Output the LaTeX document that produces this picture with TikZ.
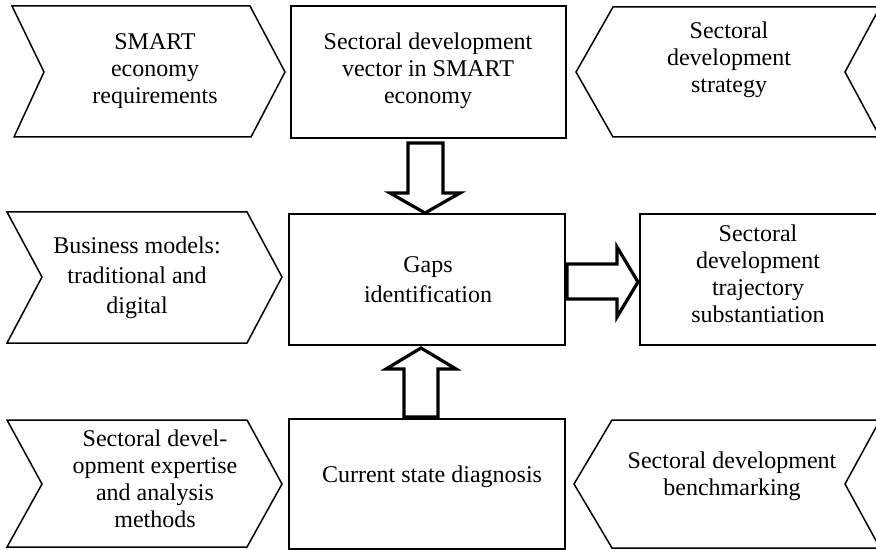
\documentclass[tikz,border=0pt]{standalone}
\usepackage{fontspec}
\setmainfont{Liberation Serif}
\begin{document}
\begin{tikzpicture}[x=0.5pt,y=-0.5pt,
  shapeline/.style={draw=black,line width=0.75pt,line join=miter,fill=white},
  blockarrow/.style={draw=black,line width=1.6pt,line join=miter,fill=white},
  lbl/.style={align=center,inner sep=0pt,font=\fontsize{12}{13.5}\selectfont},
  lblwide/.style={align=center,inner sep=0pt,font=\fontsize{12}{15}\selectfont}]
\useasboundingbox (0,0) rectangle (876,550);
\clip (0,0) rectangle (876,550);
\fill[white] (0,0) rectangle (876,550);

% top row
\draw[shapeline] (12,6) -- (250,6) -- (285,72) -- (251,137) -- (14,137) -- (44,72) -- cycle;
\draw[shapeline] (291,6) rectangle (566,138);
\draw[shapeline] (613,7) -- (880,7) -- (845,72) -- (880,137) -- (613,137) -- (576,72) -- cycle;

% middle row
\draw[shapeline] (7,212) -- (247,212) -- (282,277) -- (247,343) -- (7,343) -- (42,277) -- cycle;
\draw[shapeline] (289,214) rectangle (565,345);
\draw[shapeline] (640,214) rectangle (882,345);

% bottom row
\draw[shapeline] (7,420) -- (247,420) -- (282,484) -- (247,547) -- (7,547) -- (42,484) -- cycle;
\draw[shapeline] (289,419) rectangle (565,549);
\draw[shapeline] (612,420) -- (880,420) -- (845,484) -- (880,548) -- (612,548) -- (574,484) -- cycle;

% block arrows
\draw[blockarrow] (408,143) -- (443,143) -- (443,193) -- (460,193) -- (425,213) -- (390,193) -- (408,193) -- cycle;
\draw[blockarrow] (567,264) -- (617,264) -- (617,247) -- (638,282) -- (617,317) -- (617,299) -- (567,299) -- cycle;
\draw[blockarrow] (404,417) -- (404,369) -- (386,369) -- (421,348) -- (456,369) -- (438,369) -- (438,417) -- cycle;

% texts
\node[lbl] (smart) at (155,71) {SMART\\economy\\requirements};
\node[lbl] (vector) at (428,71) {Sectoral development\\vector in SMART\\economy};
\node[lbl] (strategy) at (729,60) {Sectoral\\development\\strategy};
\node[lblwide] (business) at (137,278) {Business models:\\traditional and\\digital};
\node[lblwide] (gaps) at (428,280) {Gaps\\identification};
\node[lbl] (trajectory) at (758,274) {Sectoral\\development\\trajectory\\substantiation};
\node[lbl] (expertise) at (155,479) {Sectoral devel-\\opment expertise\\and analysis\\methods};
\node[lbl] (diagnosis) at (432,477) {Current state diagnosis};
\node[lbl] (benchmark) at (732,476) {Sectoral development\\benchmarking};
\end{tikzpicture}
\end{document}
